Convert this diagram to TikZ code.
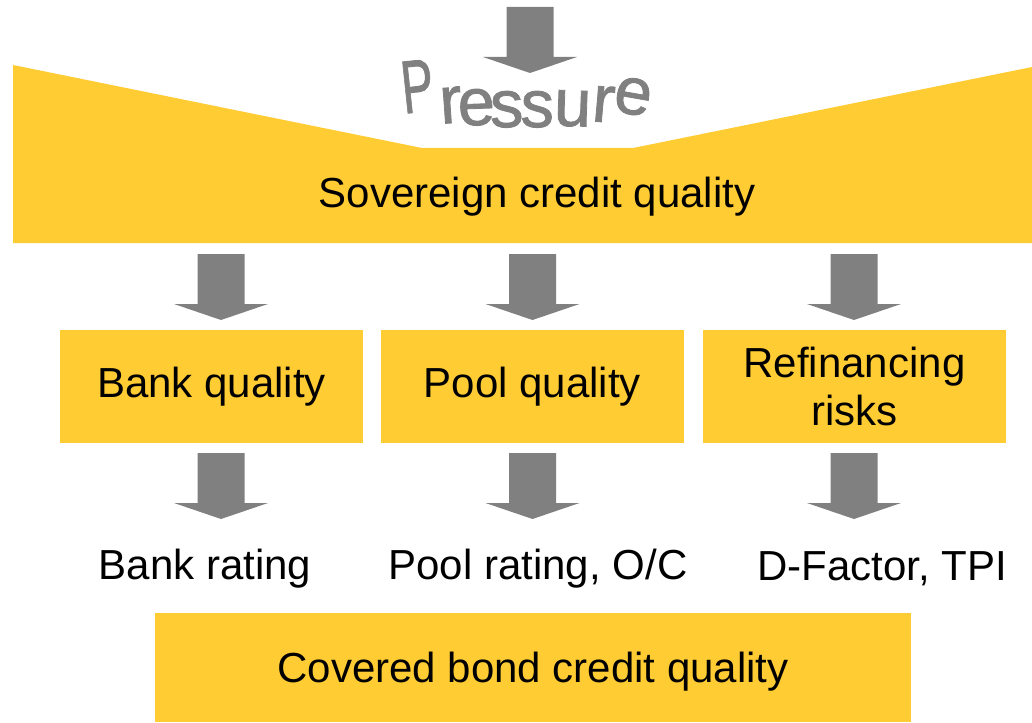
\documentclass[tikz,border=0pt]{standalone}
\usepackage{fontspec}
\setmainfont{Liberation Sans}
\newfontface\pressFont{Liberation Sans}[FakeBold=1.2]

\definecolor{boxYellow}{HTML}{FFCC33}
\definecolor{arrowGray}{HTML}{808080}

\begin{document}
\begin{tikzpicture}[
    x=1pt, y=-1pt,
    % Define the style for the yellow boxes
    qBox/.style={
        fill=boxYellow,
        draw=none,
        inner sep=0pt,
        align=center,
        font=\fontsize{42}{48}\selectfont
    },
    % Define the style for the plain labels
    qLabel/.style={
        inner sep=0pt,
        font=\fontsize{42}{48}\selectfont
    },
    % Define the style for the warped letters on top
    pLetter/.style={
        text=arrowGray,
        anchor=base,
        inner sep=0pt,
        font=\pressFont\fontsize{67}{67}\selectfont
    },
    % Define the fat gray arrow pointing down
    pics/downArrow/.style={code={
        \fill[arrowGray] (-23.5,0) -- (23.5,0) -- (23.5,50) -- (47,50)
            -- (0,66) -- (-47,50) -- (-23.5,50) -- cycle;
    }}
]

    \useasboundingbox (0,0) rectangle (1032,722);

    % --- TOP BANNER ---
    \fill[boxYellow] (13,65) -- (422,148) -- (633,148) -- (1032,67)
        -- (1032,243) -- (13,243) -- cycle;
    \node[qLabel] (sov) at (537,197) {Sovereign credit quality};

    % Arrow pushing down on the banner
    \pic at (530,7) {downArrow};

    % Letters of the word, each set on a sagging baseline
    \foreach \ch/\px/\py/\ang/\sx/\sy [count=\k] in {
        P/420/112/6/0.72/1.12, r/452/123/4/1/1, e/477/125/2/1/1,
        s/507/127/1/1/1, s/537/127/-1/1/1, u/572/126/-2/1/1,
        r/602/122/-5/1/1, e/630/114/-10/1/1} {
        \node[pLetter, rotate=\ang, xscale=\sx, yscale=\sy] (press\k) at (\px,\py) {\ch};
    }

    % --- MIDDLE ROW ---
    \node[qBox, minimum width=303pt, minimum height=113pt] (bankQ) at (211.5,386.5) {Bank quality};
    \node[qBox, minimum width=303pt, minimum height=113pt] (poolQ) at (532.5,386.5) {Pool quality};
    \node[qBox, minimum width=303pt, minimum height=113pt] (refiQ) at (854.5,386.5) {Refinancing\\risks};

    % Arrows between the rows
    \foreach \ax in {221, 532.5, 854} {
        \pic at (\ax,254) {downArrow};
        \pic at (\ax,453) {downArrow};
    }

    % --- RATINGS ---
    \node[qLabel] (bankR) at (205,569) {Bank rating};
    \node[qLabel] (poolR) at (538,569) {Pool rating, O/C};
    \node[qLabel] (refiR) at (882,569) {D-Factor, TPI};

    % --- BOTTOM BOX ---
    \node[qBox, text depth=0pt, minimum width=756pt, minimum height=109pt] (bondQ) at (533,667.5) {Covered bond credit quality};

\end{tikzpicture}
\end{document}
